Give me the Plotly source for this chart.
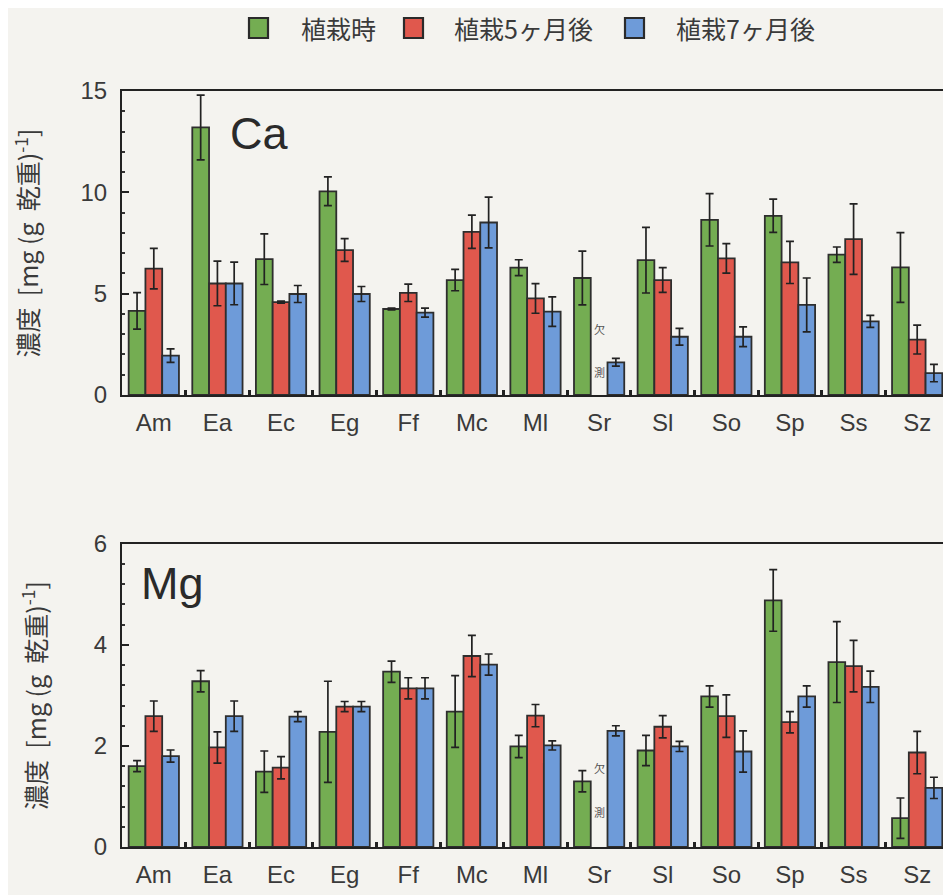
import plotly.graph_objects as go

species = ["Am", "Ea", "Ec", "Eg", "Ff", "Mc", "Ml", "Sr", "Sl", "So", "Sp", "Ss", "Sz"]
series_names = ["植栽時", "植栽5ヶ月後", "植栽7ヶ月後"]

ca_0 = [4.15, 13.2, 6.7, 10.05, 4.24, 5.67, 6.28, 5.77, 6.65, 8.64, 8.84, 6.92, 6.29]
ca_0_err = [0.9, 1.6, 1.25, 0.71, 0.04, 0.53, 0.39, 1.33, 1.62, 1.29, 0.82, 0.38, 1.72]
ca_5 = [6.23, 5.5, 4.58, 7.15, 5.04, 8.05, 4.76, None, 5.67, 6.74, 6.54, 7.69, 2.73]
ca_5_err = [1.0, 1.1, 0.05, 0.56, 0.43, 0.82, 0.73, None, 0.61, 0.73, 1.04, 1.74, 0.71]
ca_7 = [1.94, 5.5, 4.98, 4.98, 4.06, 8.51, 4.11, 1.61, 2.87, 2.87, 4.44, 3.63, 1.08]
ca_7_err = [0.33, 1.05, 0.42, 0.37, 0.22, 1.25, 0.73, 0.19, 0.41, 0.49, 1.33, 0.3, 0.43]

mg_0 = [1.6, 3.28, 1.49, 2.28, 3.47, 2.68, 1.99, 1.3, 1.91, 2.98, 4.88, 3.66, 0.57]
mg_0_err = [0.11, 0.21, 0.41, 1.0, 0.21, 0.71, 0.22, 0.21, 0.3, 0.21, 0.61, 0.8, 0.4]
mg_5 = [2.59, 1.97, 1.57, 2.78, 3.14, 3.78, 2.6, None, 2.38, 2.59, 2.47, 3.58, 1.87]
mg_5_err = [0.3, 0.31, 0.22, 0.1, 0.21, 0.41, 0.22, None, 0.22, 0.42, 0.21, 0.51, 0.42]
mg_7 = [1.8, 2.59, 2.58, 2.78, 3.14, 3.61, 2.01, 2.3, 1.99, 1.89, 2.98, 3.17, 1.17]
mg_7_err = [0.12, 0.3, 0.1, 0.1, 0.21, 0.21, 0.09, 0.1, 0.1, 0.41, 0.21, 0.31, 0.21]

colors = ["#74ad52", "#e0584d", "#6e9bd9"]
edge = "#2e2e2e"
bg = "#f4f3ef"
txt = "#3a3a3a"
FONT = "Liberation Sans, Arial, Noto Sans CJK JP"
CJK = "Noto Sans CJK JP, Liberation Sans"

# page body has an 8px default margin, so the figure is sized to fit the window
OFF = 8
W, H = 943, 887
ML, MR, MT, MB = 114, 2, 83, 48
PW, PH = W - ML - MR, H - MT - MB


def px_x(p):
    return (p - OFF - ML) / PW


def px_y(p):
    return (H - MB - (p - OFF)) / PH


fig = go.Figure()

panels = [
    ("x", "y", [ca_0, ca_5, ca_7], [ca_0_err, ca_5_err, ca_7_err]),
    ("x2", "y2", [mg_0, mg_5, mg_7], [mg_0_err, mg_5_err, mg_7_err]),
]
for xax, yax, vals, errs in panels:
    for si in range(3):
        fig.add_trace(go.Bar(
            x=species, y=vals[si], name=series_names[si],
            xaxis=xax, yaxis=yax,
            marker=dict(color=colors[si], line=dict(color=edge, width=1.8)),
            error_y=dict(type="data", array=errs[si], visible=True,
                         color="#222222", thickness=1.7, width=4),
            showlegend=False,
            offsetgroup=str(si),
        ))

axis_common = dict(
    showline=True, linecolor="#222222", linewidth=2.2, mirror=True,
    showgrid=False, zeroline=False,
    tickfont=dict(family=FONT, size=24, color=txt),
)
xcommon = dict(axis_common, domain=[0, 1], type="category",
               ticks="inside", tickson="boundaries", ticklen=5, tickwidth=2.5, tickcolor="#222222",
               ticklabelstandoff=5)
title_font = dict(family=CJK, size=25, color=txt)
ytitle = "濃度  [mg (g  乾重)<sup>-1</sup>]"

fig.update_layout(
    width=W, height=H,
    paper_bgcolor=bg, plot_bgcolor=bg,
    margin=dict(l=ML, r=MR, t=MT, b=MB, autoexpand=False),
    barmode="group", bargap=0.21, bargroupgap=0,
    font=dict(family=CJK, color=txt),
    showlegend=False,
    xaxis=dict(xcommon, anchor="y"),
    xaxis2=dict(xcommon, anchor="y2"),
    yaxis=dict(axis_common, domain=[0.598, 1], anchor="x", range=[0, 15],
               tickvals=[0, 5, 10, 15], ticks="inside", ticklen=7, tickwidth=2, tickcolor="#222222",
               minor=dict(dtick=1, ticks="inside", ticklen=3, tickwidth=1.5, tickcolor="#333333"),
               ticklabelstandoff=8,
               title=dict(text=ytitle, standoff=40, font=title_font)),
    yaxis2=dict(axis_common, domain=[0, 0.401], anchor="x2", range=[0, 6],
                tickvals=[0, 2, 4, 6], ticks="inside", ticklen=7, tickwidth=2, tickcolor="#222222",
                minor=dict(dtick=0.4, ticks="inside", ticklen=3, tickwidth=1.5, tickcolor="#333333"),
                ticklabelstandoff=8,
                title=dict(text=ytitle, standoff=40, font=title_font)),
)

# Legend (drawn manually to match the large square swatches)
legend_sq_left = [249, 404, 625]
legend_txt_left = [299, 452, 674]
legend_cy = 28
for i in range(3):
    fig.add_shape(type="rect", xref="paper", yref="paper",
                  x0=px_x(legend_sq_left[i]), x1=px_x(legend_sq_left[i] + 19),
                  y0=px_y(legend_cy + 10), y1=px_y(legend_cy - 10),
                  fillcolor=colors[i], line=dict(color="#2a2a2a", width=2.2))
    fig.add_annotation(text=series_names[i], xref="paper", yref="paper",
                       x=px_x(legend_txt_left[i]), y=px_y(legend_cy),
                       xanchor="left", yanchor="middle", showarrow=False,
                       font=dict(family=CJK, size=25, color=txt))

# Panel labels
fig.add_annotation(text="Ca", xref="x domain", yref="y domain", x=0.128, y=0.86,
                   xanchor="left", yanchor="middle", showarrow=False,
                   font=dict(family=FONT, size=45, color="#2a2a2a"))
fig.add_annotation(text="Mg", xref="x2 domain", yref="y2 domain", x=0.02, y=0.87,
                   xanchor="left", yanchor="middle", showarrow=False,
                   font=dict(family=FONT, size=45, color="#2a2a2a"))

# Missing-data marks
for xr, yr, y1, y2 in [("x", "y", 3.27, 1.15), ("x2", "y2", 1.56, 0.69)]:
    for ch, yy in [("欠", y1), ("測", y2)]:
        fig.add_annotation(text=ch, x="Sr", y=yy, xref=xr, yref=yr, showarrow=False,
                           font=dict(family=CJK, size=11, color="#555555"))

fig.write_html("out.html")
